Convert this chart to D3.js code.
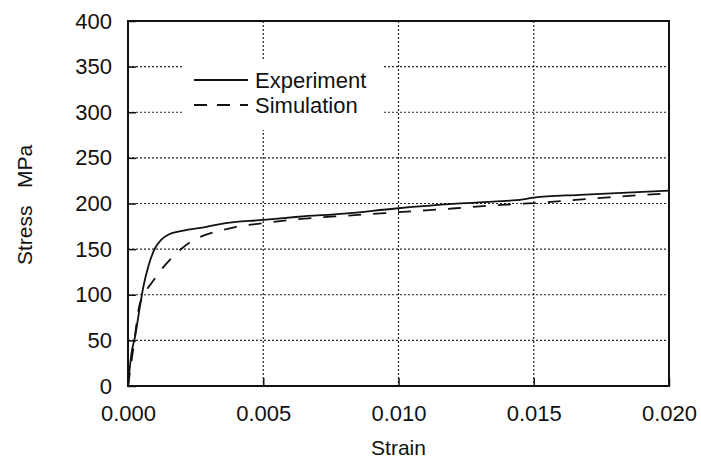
<!DOCTYPE html>
<html>
<head>
<meta charset="UTF-8" />
<script src="https://d3js.org/d3.v7.min.js"></script>
<style>
  body { margin: 0; background: #fff; }
  text { font-family: "Liberation Sans", Arial, sans-serif; fill: #111; }
  .grid line { stroke: #222; stroke-width: 1.2px; stroke-dasharray: 2,2; }
  .axis path { display: none; }
  .axis line { stroke: #111; stroke-width: 1.5px; }
  .axis text { font-size: 22px; }
  .frame { fill: none; stroke: #111; stroke-width: 2px; }
  .exp { fill: none; stroke: #111; stroke-width: 1.8px; }
  .sim { fill: none; stroke: #111; stroke-width: 1.8px; stroke-dasharray: 13,12; }
</style>
</head>
<body>
<svg width="701" height="460"></svg>
<script>
// values
var expStrain = [0, 0.00013, 0.00026, 0.00044, 0.00057, 0.00075, 0.001, 0.00125, 0.0015, 0.002, 0.0029, 0.0035, 0.005, 0.0063, 0.008, 0.0099, 0.012, 0.0135, 0.0146, 0.015, 0.0167, 0.02];
var expStress = [0, 36, 54, 87, 109, 131, 151, 161, 166, 170, 174.5, 178, 182, 185.5, 189, 194.5, 199.5, 202, 204.5, 206.5, 209.5, 214];

var simStrain = [0, 0.0002, 0.00042, 0.0006, 0.0008, 0.001, 0.0013, 0.0016, 0.002, 0.0025, 0.003, 0.0035, 0.004, 0.005, 0.006, 0.007, 0.008, 0.009, 0.010, 0.011, 0.012, 0.013, 0.014, 0.015, 0.016, 0.017, 0.018, 0.019, 0.020];
var simStress = [0, 42, 88, 101, 110, 118, 130, 140, 151, 161, 167, 171, 174.5, 178.5, 182, 184.5, 186.5, 188.5, 190.5, 192.5, 194.5, 196.8, 198.8, 200.5, 202.5, 205, 207.2, 209.3, 211];

var xTicks = [0, 0.005, 0.010, 0.015, 0.020];
var yTicks = [0, 50, 100, 150, 200, 250, 300, 350, 400];
var seriesNames = ["Experiment", "Simulation"];

var margin = { top: 21, right: 32, bottom: 74, left: 128 };
var width = 701 - margin.left - margin.right;
var height = 460 - margin.top - margin.bottom;

var svg = d3.select("svg");
var g = svg.append("g").attr("transform", "translate(" + margin.left + "," + margin.top + ")");

var x = d3.scaleLinear().domain([0, 0.02]).range([0, width]);
var y = d3.scaleLinear().domain([0, 400]).range([height, 0]);

// dotted grid
g.append("g").attr("class", "grid")
  .selectAll("line")
  .data(yTicks.slice(1, -1))
  .enter().append("line")
  .attr("x1", 0).attr("x2", width)
  .attr("y1", d => y(d)).attr("y2", d => y(d));

g.append("g").attr("class", "grid")
  .selectAll("line")
  .data(xTicks.slice(1, -1))
  .enter().append("line")
  .attr("y1", 0).attr("y2", height)
  .attr("x1", d => x(d)).attr("x2", d => x(d));

// legend box (white) hides the grid behind it
var legX = 54, legY = 39;
g.append("rect")
  .attr("x", legX).attr("y", legY)
  .attr("width", 200).attr("height", 70)
  .attr("fill", "#fff");

// axes
g.append("g").attr("class", "axis")
  .attr("transform", "translate(0," + height + ")")
  .call(d3.axisBottom(x).tickValues(xTicks).tickFormat(d3.format(".3f"))
    .tickSizeInner(-8).tickSizeOuter(0).tickPadding(19));

g.append("g").attr("class", "axis")
  .call(d3.axisLeft(y).tickValues(yTicks)
    .tickSizeInner(-8).tickSizeOuter(0).tickPadding(16));

g.append("rect").attr("class", "frame")
  .attr("width", width).attr("height", height);

// curves
var line = d3.line()
  .x(d => x(d[0]))
  .y(d => y(d[1]))
  .curve(d3.curveMonotoneX);

g.append("path").attr("class", "exp")
  .attr("d", line(d3.zip(expStrain, expStress)));

g.append("path").attr("class", "sim")
  .attr("d", line(d3.zip(simStrain, simStress)));

// legend
var lg = g.append("g").attr("transform", "translate(" + (legX + 12) + "," + (legY + 20) + ")");
lg.append("line").attr("class", "exp").attr("x1", 0).attr("x2", 54).attr("y1", 0).attr("y2", 0);
lg.append("line").attr("class", "sim").attr("x1", 0).attr("x2", 54).attr("y1", 25).attr("y2", 25)
  .style("stroke-dasharray", "13,10");
lg.selectAll("text")
  .data(seriesNames)
  .enter().append("text")
  .attr("x", 61)
  .attr("y", (d, i) => 8 + i * 24.5)
  .style("font-size", "22px")
  .text(d => d);

// axis titles
svg.append("text")
  .attr("x", margin.left + width / 2)
  .attr("y", 455)
  .attr("text-anchor", "middle")
  .style("font-size", "21px")
  .text("Strain");

svg.append("text")
  .attr("transform", "translate(32,205) rotate(-90)")
  .attr("text-anchor", "middle")
  .style("font-size", "21px")
  .text("Stress\u00a0\u00a0\u00a0MPa");
</script>
</body>
</html>
